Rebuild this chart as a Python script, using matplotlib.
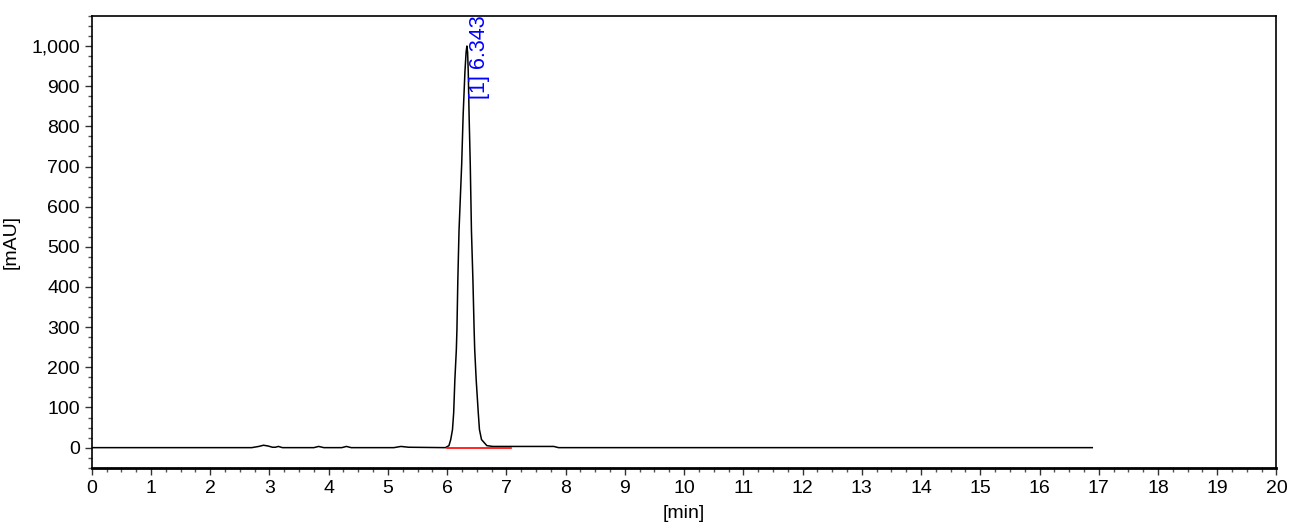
import matplotlib
matplotlib.use('Agg')
import matplotlib.pyplot as plt
from matplotlib.ticker import MultipleLocator, FuncFormatter

plt.rcParams['font.family'] = ['Liberation Sans', 'DejaVu Sans']

# 層析訊號
time_min = [0.0, 2.70, 2.82, 2.90, 2.98, 3.05, 3.10, 3.15, 3.22, 3.75, 3.83, 3.92,
            4.22, 4.30, 4.38, 5.10, 5.22, 5.35, 5.97, 6.03, 6.06, 6.09, 6.11, 6.13,
            6.155, 6.165, 6.18, 6.20, 6.245, 6.27, 6.30, 6.32, 6.333, 6.345, 6.356,
            6.37, 6.39, 6.41, 6.435, 6.455, 6.465, 6.49, 6.525, 6.545, 6.58, 6.67,
            6.77, 7.80, 7.88, 16.89]
signal_mau = [0, 0, 3, 6, 4, 1, 1, 3, 0, 0, 3, 0,
              0, 3, 0, 0, 3, 1, 0, 5, 20, 45, 87, 169,
              244, 294, 416, 540, 705, 829, 936, 985, 1000, 985, 936,
              829, 705, 540, 416, 294, 244, 169, 87, 45, 20, 5,
              3, 3, 0, 0]

# 積分基線
base_t = [6.0, 7.08]
base_y = [0, 0]

peak_rt = 6.343
peak_label = '[1] 6.343'

fig = plt.figure(figsize=(12.92, 5.30), dpi=100)
ax = fig.add_axes([0.071, 0.1175, 0.917, 0.8525])

ax.plot(time_min, signal_mau, color='black', lw=1.1)
ax.plot(base_t, base_y, color='red', lw=1.2)

ax.text(peak_rt + 0.02, 1076, peak_label, rotation=90, color='blue',
        fontsize=15.5, ha='left', va='top')

ax.set_xlim(0, 20)
ax.set_ylim(-50, 1075)
ax.xaxis.set_major_locator(MultipleLocator(1))
ax.xaxis.set_minor_locator(MultipleLocator(0.25))
ax.yaxis.set_major_locator(MultipleLocator(100))
ax.yaxis.set_minor_locator(MultipleLocator(25))
ax.yaxis.set_major_formatter(FuncFormatter(lambda v, p: f'{int(v):,}'))

ax.tick_params(which='major', length=5, width=1, labelsize=14, color='#333333')
ax.tick_params(which='minor', length=3, width=1, color='#555555')

for s in ax.spines.values():
    s.set_linewidth(1.2)
ax.spines['bottom'].set_linewidth(2)

ax.set_xlabel('[min]', fontsize=14, labelpad=6)
ax.set_ylabel('[mAU]', fontsize=14, labelpad=8)

fig.savefig('out.png', dpi=100)
